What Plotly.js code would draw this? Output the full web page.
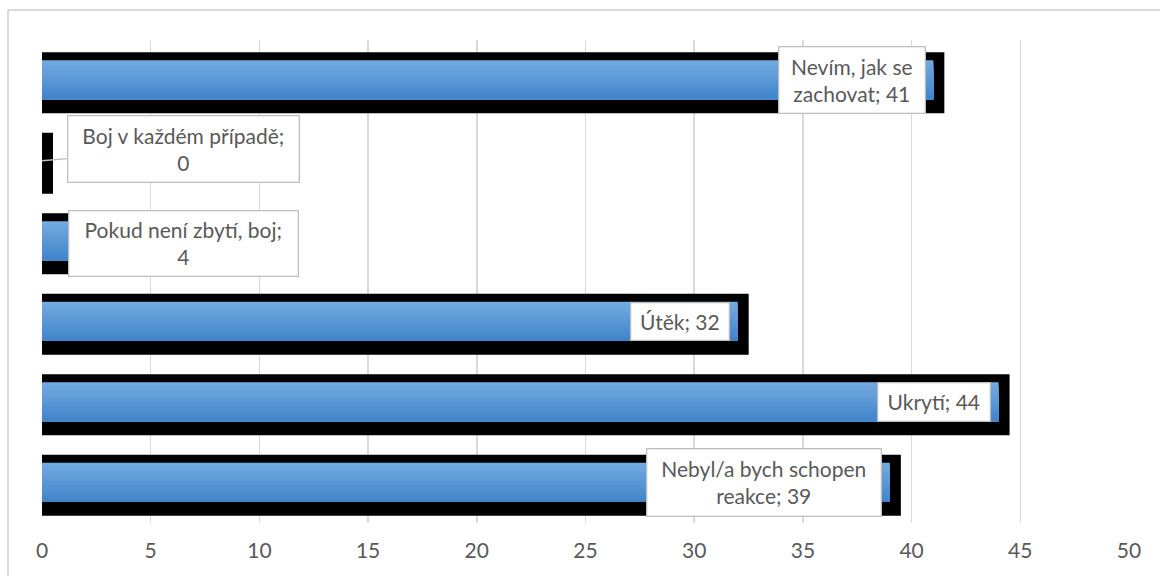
<!DOCTYPE html>
<html>
<head>
<meta charset="utf-8">
<script src="https://cdn.plot.ly/plotly-3.0.1.min.js"></script>
<style>
  html, body { margin: 0; padding: 0; background: #ffffff; overflow: hidden; }
  #chart { width: 1160px; height: 576px; }
</style>
</head>
<body>
<div id="chart"></div>
<script>
// ---- data (top to bottom as shown) ----
const categories = [
  "Nevím, jak se zachovat",
  "Boj v každém případě",
  "Pokud není zbytí, boj",
  "Útěk",
  "Ukrytí",
  "Nebyl/a bych schopen reakce"
];
const values = [41, 0, 4, 32, 44, 39];
const tickValues = [0, 5, 10, 15, 20, 25, 30, 35, 40, 45, 50];

// ---- styling config ----
const FONT = "Lato, 'Open Sans', sans-serif";
const TEXT_COLOR = "#595959";
const M = {l: 42, r: 31, t: 40, b: 53};
const W = 1160, H = 576;
const band = (H - M.t - M.b) / 6;
const blueW = 39 / band, blueOff = -blueW / 2 - 0.6 / band;
const blackW = 61 / band, blackOff = -blackW / 2 + 2.5 / band;
const shadowExtra = 11 / ((W - M.l - M.r) / 50);

// label wrapping (max chars on first line) and box placement
const wrapLen = [13, 21, 22, 99, 99, 20];
const boxCfg = [
  {side: "right", w: 145, h: 65, dy: 0},
  {side: "callout", w: 230, h: 65, ax: 141, ay: -12},
  {side: "left", w: 228, h: 64, dy: -2},
  {side: "right", w: 97, h: 36, dy: 0},
  {side: "right", w: 111, h: 37, dy: 0},
  {side: "right", w: 233, h: 66, dy: 0}
];

function wrap(text, maxLen) {
  const words = text.split(" ");
  const lines = [];
  let cur = "";
  words.forEach(w => {
    const t = cur ? cur + " " + w : w;
    if (t.length > maxLen && cur) { lines.push(cur); cur = w; } else { cur = t; }
  });
  if (cur) lines.push(cur);
  return lines.join("<br>");
}

const traces = [];
// black shadow
traces.push({
  type: "bar", orientation: "h",
  y: categories, x: values.map(v => v + shadowExtra),
  width: blackW, offset: blackOff,
  marker: {color: "#000000", line: {width: 0}},
  hoverinfo: "skip", showlegend: false
});
// blue bar with vertical gradient (overlapping strips, top -> bottom)
const nStrips = 14;
const topC = [114, 170, 223], botC = [66, 133, 203];
for (let i = 0; i < nStrips; i++) {
  const f = i / (nStrips - 1);
  const c = topC.map((t, k) => Math.round(t + (botC[k] - t) * f));
  const start = blueOff + blueW * i / nStrips;
  traces.push({
    type: "bar", orientation: "h",
    y: categories, x: values,
    width: blueOff + blueW - start, offset: start,
    marker: {color: `rgb(${c[0]},${c[1]},${c[2]})`, line: {width: 0}},
    hoverinfo: "skip", showlegend: false
  });
}

const annotations = categories.map((cat, i) => {
  const cfg = boxCfg[i];
  const a = {
    xref: "x", yref: "y", x: values[i], y: cat,
    text: wrap(cat + "; " + values[i], wrapLen[i]),
    font: {family: FONT, size: 21, color: TEXT_COLOR},
    bgcolor: "#ffffff", bordercolor: "#bfbfbf", borderwidth: 1.3, borderpad: 0,
    width: cfg.w, height: cfg.h, align: "center", valign: "middle",
    showarrow: false
  };
  if (cfg.side === "right") {
    a.xanchor = "right"; a.xshift = -7.5; a.yanchor = "middle"; a.yshift = cfg.dy;
  } else if (cfg.side === "left") {
    a.x = 0; a.xanchor = "left"; a.xshift = 26; a.yanchor = "middle"; a.yshift = cfg.dy;
  } else {
    a.showarrow = true; a.arrowhead = 0; a.arrowcolor = "#bfbfbf"; a.arrowwidth = 1.3;
    a.axref = "pixel"; a.ayref = "pixel"; a.ax = cfg.ax; a.ay = cfg.ay; a.standoff = 0;
  }
  return a;
});

// outer chart frame (top and left edges visible), in paper coordinates
const pw = W - M.l - M.r, ph = H - M.t - M.b;
const fx = (8 - M.l) / pw, fy = 1 + (M.t - 10) / ph, fyb = -(M.b + 5) / ph, fxr = 1 + (M.r + 5) / pw;
const shapes = [
  {type: "line", xref: "paper", yref: "paper", x0: fx, x1: fxr, y0: fy, y1: fy, line: {color: "#d9d9d9", width: 2}},
  {type: "line", xref: "paper", yref: "paper", x0: fx, x1: fx, y0: fyb, y1: fy, line: {color: "#d9d9d9", width: 2}}
];

const layout = {
  width: W, height: H,
  margin: M,
  paper_bgcolor: "#ffffff", plot_bgcolor: "#ffffff",
  barmode: "overlay",
  font: {family: FONT, color: TEXT_COLOR},
  xaxis: {
    range: [0, 50], tickvals: tickValues, ticktext: tickValues.map(String),
    showgrid: true, gridcolor: "#d9d9d9", gridwidth: 1.5,
    zeroline: false, showline: false, ticks: "",
    tickfont: {family: FONT, size: 21, color: TEXT_COLOR},
    ticklabelstandoff: 13, fixedrange: true
  },
  yaxis: {
    type: "category", categoryorder: "array", categoryarray: categories,
    autorange: "reversed", showticklabels: false, showgrid: false,
    zeroline: false, showline: false, ticks: "", fixedrange: true
  },
  annotations: annotations,
  shapes: shapes,
  showlegend: false
};

Plotly.newPlot("chart", traces, layout, {displayModeBar: false, staticPlot: true});
</script>
</body>
</html>
